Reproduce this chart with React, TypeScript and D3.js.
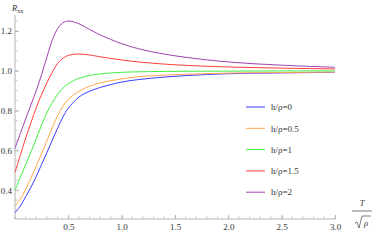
import React, { useEffect, useRef } from 'react';
import * as d3 from 'd3';

const tGrid = [0, 0.05, 0.1, 0.15, 0.2, 0.25, 0.3, 0.35, 0.4, 0.45, 0.5, 0.6, 0.7, 0.8, 1.0, 1.2, 1.5, 2.0, 2.5, 3.0];
const rH0 = [0.285, 0.32, 0.367, 0.415, 0.47, 0.53, 0.59, 0.652, 0.712, 0.768, 0.812, 0.868, 0.897, 0.916, 0.943, 0.958, 0.972, 0.985, 0.989, 0.992];
const rH05 = [0.32, 0.355, 0.405, 0.462, 0.522, 0.585, 0.65, 0.715, 0.775, 0.822, 0.856, 0.897, 0.922, 0.939, 0.959, 0.972, 0.98, 0.988, 0.991, 0.993];
const rH1 = [0.4, 0.465, 0.528, 0.592, 0.66, 0.728, 0.79, 0.84, 0.882, 0.913, 0.935, 0.962, 0.976, 0.984, 0.992, 0.995, 0.997, 0.998, 0.999, 0.999];
const rH15 = [0.49, 0.575, 0.662, 0.74, 0.815, 0.882, 0.94, 0.993, 1.037, 1.063, 1.077, 1.084, 1.079, 1.07, 1.054, 1.042, 1.03, 1.019, 1.013, 1.009];
const rH2 = [0.61, 0.685, 0.758, 0.83, 0.902, 0.982, 1.07, 1.155, 1.212, 1.241, 1.25, 1.236, 1.207, 1.18, 1.136, 1.105, 1.075, 1.044, 1.028, 1.017];

const seriesNames = ['h/ρ=0', 'h/ρ=0.5', 'h/ρ=1', 'h/ρ=1.5', 'h/ρ=2'];
const seriesValues = [rH0, rH05, rH1, rH15, rH2];
const seriesColors = ['#3c3cff', '#ffa54a', '#40f040', '#ff3c3c', '#a040b0'];

const xTicks = [0.5, 1.0, 1.5, 2.0, 2.5, 3.0];
const yTicks = [0.4, 0.6, 0.8, 1.0, 1.2];

const FONT = "'Liberation Serif', 'DejaVu Serif', serif";

const App = () => {
    const svgRef = useRef(null);

    useEffect(() => {
        const svg = d3.select(svgRef.current);
        svg.selectAll('*').remove();

        const x = d3.scaleLinear().domain([0, 3]).range([15, 335]);
        const y = d3.scaleLinear().domain([0.255, 1.27]).range([219, 17]);
        const axisColor = '#b4b4b4';

        // minor ticks
        const g = svg.append('g');
        g.selectAll('.xminor')
            .data(d3.range(0, 31).map(i => i / 10))
            .enter()
            .append('line')
            .attr('x1', d => x(d)).attr('x2', d => x(d))
            .attr('y1', 219).attr('y2', 216.5)
            .attr('stroke', axisColor).attr('stroke-width', 0.8);
        g.selectAll('.yminor')
            .data(d3.range(6, 26).map(i => i * 0.05))
            .enter()
            .append('line')
            .attr('x1', 15).attr('x2', 17.5)
            .attr('y1', d => y(d)).attr('y2', d => y(d))
            .attr('stroke', axisColor).attr('stroke-width', 0.8);

        // axes
        const xAxis = svg.append('g')
            .attr('transform', 'translate(0,219)')
            .call(d3.axisBottom(x).tickValues(xTicks).tickSize(-4).tickPadding(5).tickSizeOuter(0)
                .tickFormat(d3.format('.1f')));
        xAxis.select('.domain').attr('stroke', axisColor).attr('d', `M${x(0)},0H${x(3)}`);
        const yAxis = svg.append('g')
            .attr('transform', 'translate(15,0)')
            .call(d3.axisLeft(y).tickValues(yTicks).tickSize(-4).tickPadding(3).tickSizeOuter(0)
                .tickFormat(d3.format('.1f')));
        yAxis.select('.domain').attr('stroke', axisColor).attr('d', `M0,${y(0.255)}V15`);
        [xAxis, yAxis].forEach(a => {
            a.attr('font-family', null).attr('font-size', null);
            a.selectAll('.tick line').attr('stroke', axisColor);
            a.selectAll('text').attr('fill', '#333').style('font-family', FONT).style('font-size', '9px');
        });

        // curves
        const line = d3.line()
            .x(d => x(d[0]))
            .y(d => y(d[1]))
            .curve(d3.curveCatmullRom.alpha(0.5));
        seriesValues.forEach((vals, i) => {
            svg.append('path')
                .datum(tGrid.map((t, j) => [t, vals[j]]))
                .attr('d', line)
                .attr('fill', 'none')
                .attr('stroke', seriesColors[i])
                .attr('stroke-width', 1);
        });

        // legend
        const legend = svg.append('g').attr('transform', 'translate(246,107)');
        seriesNames.forEach((name, i) => {
            const row = legend.append('g').attr('transform', `translate(0,${i * 21.3})`);
            row.append('line').attr('x1', 0).attr('x2', 19).attr('y1', 0).attr('y2', 0)
                .attr('stroke', seriesColors[i]).attr('stroke-width', 1);
            row.append('text').attr('x', 25).attr('y', 3.2)
                .attr('fill', '#333').style('font-family', FONT).style('font-size', '9px')
                .text(name);
        });

        // axis labels
        const rl = svg.append('text').attr('x', 12).attr('y', 11)
            .style('font-family', FONT).style('font-size', '8.5px').attr('fill', '#333');
        rl.append('tspan').style('font-style', 'italic').text('R');
        rl.append('tspan').attr('dy', 2).style('font-size', '6px').text('xx');

        svg.append('text').attr('x', 362).attr('y', 206).attr('text-anchor', 'middle')
            .style('font-family', FONT).style('font-size', '8.5px').style('font-style', 'italic')
            .attr('fill', '#333').text('T');
        svg.append('line').attr('x1', 352).attr('x2', 372).attr('y1', 211).attr('y2', 211)
            .attr('stroke', '#444').attr('stroke-width', 0.7);
        svg.append('path').attr('d', 'M355,223 L357,222 L359,228 L362,216 H371')
            .attr('fill', 'none').attr('stroke', '#444').attr('stroke-width', 0.7);
        svg.append('text').attr('x', 366).attr('y', 226).attr('text-anchor', 'middle')
            .style('font-family', FONT).style('font-size', '8.5px').style('font-style', 'italic')
            .attr('fill', '#333').text('ρ');
    }, []);

    return (
        <svg ref={svgRef} width={374} height={240}
             style={{ position: 'absolute', left: 0, top: 0, background: '#fff' }} />
    );
};

export default App;
